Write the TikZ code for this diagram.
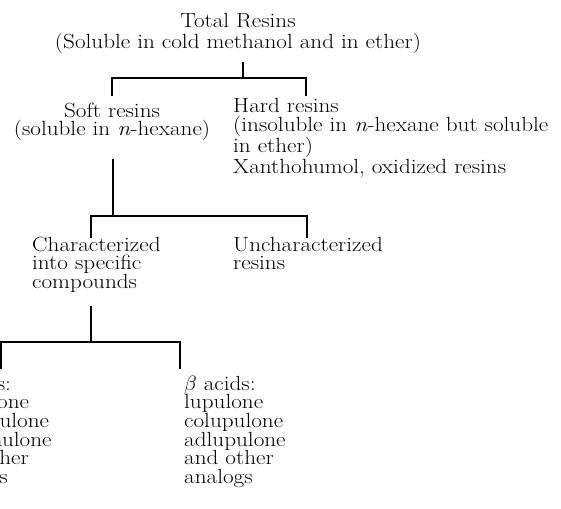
\documentclass[tikz,border=0pt]{standalone}
\usepackage{fontspec}
\setmainfont{Latin Modern Roman}[FakeStretch=1.13]
\begin{document}
\begin{tikzpicture}[x=1pt,y=-1pt,
  lbl/.style={inner sep=0pt, font=\fontsize{20.5}{18.7}\selectfont},
  lblc/.style={lbl, align=center},
  lbll/.style={lbl, align=left},
  conn/.style={line width=1.3pt, line cap=rect}]
\clip (0,0) rectangle (561,508);
\useasboundingbox (0,0) rectangle (561,508);
% nodes (anchor base = baseline of the last line)
\node[lblc, anchor=base, font=\fontsize{20.5}{21}\selectfont] (total) at (238,49) {Total Resins\\(Soluble in cold methanol and in ether)};
\node[lblc, anchor=base] (soft) at (112,135.7) {Soft resins\\(soluble in \textit{n}-hexane)};
\node[lbll, anchor=base west] (hard) at (233,173.1) {Hard resins\\(insoluble in \textit{n}-hexane but soluble\\in ether)\\Xanthohumol, oxidized resins};
\node[lbll, anchor=base west] (char) at (32,288.4) {Characterized\\into specific\\compounds};
\node[lbll, anchor=base west] (unchar) at (233,269.7) {Uncharacterized\\resins};
\node[lbll, anchor=base west] (alpha) at (-61,483.5) {$\alpha$ acids:\\humulone\\cohumulone\\adhumulone\\and other\\analogs};
\node[lbll, anchor=base west] (beta) at (184,483.5) {$\beta$ acids:\\lupulone\\colupulone\\adlupulone\\and other\\analogs};
% junction coordinates
\coordinate (j1t) at (243,63);
\coordinate (j1) at (243,78);
\coordinate (j1l) at (112,78);
\coordinate (j1r) at (306,78);
\coordinate (j2t) at (113,160);
\coordinate (j2) at (113,216);
\coordinate (j2l) at (91,216);
\coordinate (j2r) at (307,216);
\coordinate (j3t) at (91,307);
\coordinate (j3) at (91,342);
\coordinate (j3l) at (1,342);
\coordinate (j3r) at (180,342);
% connectors
\draw[conn] (j1t) -- (j1);
\draw[conn] (j1l) ++(0,17) -- (j1l) -- (j1r) -- ++(0,17);
\draw[conn] (j2t) -- (j2);
\draw[conn] (j2l) ++(0,21) -- (j2l) -- (j2r) -- ++(0,21);
\draw[conn] (j3t) -- (j3);
\draw[conn] (j3l) ++(0,26) -- (j3l) -- (j3r) -- ++(0,26);
\end{tikzpicture}
\end{document}
